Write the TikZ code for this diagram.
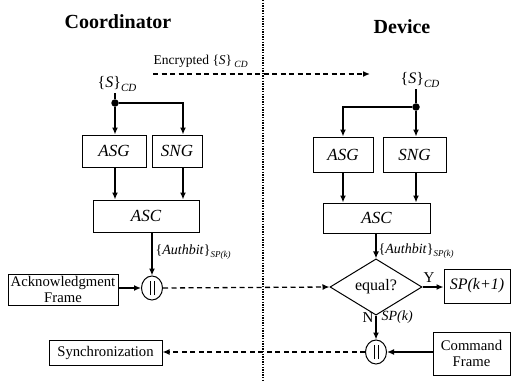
\documentclass[tikz,border=0pt]{standalone}
\usepackage{fontspec}
\setmainfont{Liberation Serif}
\usetikzlibrary{shapes.geometric,arrows.meta}
\newcommand\lsub[2][9]{\raisebox{-0.5ex}{\fontsize{#1}{#1}\selectfont\itshape #2}}
\begin{document}
\begin{tikzpicture}[x=1pt,y=-1pt,
  >={Latex[length=7pt,width=6pt]},
  line width=1.3pt,
  box/.style={draw,line width=1pt,inner sep=0pt,font=\fontsize{14.7}{16.5}\selectfont,align=center},
  ibox/.style={box,font=\fontsize{17}{17}\selectfont\itshape},
  ttl/.style={font=\fontsize{20}{20}\selectfont\bfseries},
  lbl/.style={font=\fontsize{14}{14}\selectfont,inner sep=1pt},
  jdot/.style={circle,fill,inner sep=0pt,minimum size=7.5pt},
  orc/.style={ellipse,draw,line width=1pt,minimum width=21pt,minimum height=24pt,inner sep=0pt,
    path picture={\draw[line width=1pt]
      ([xshift=-2pt,yshift=-7pt]path picture bounding box.center) -- ++(0pt,14pt)
      ([xshift=2pt,yshift=-7pt]path picture bounding box.center) -- ++(0pt,14pt);}},
  dsh/.style={dash pattern=on 5pt off 3.5pt,line width=1.3pt},
  dtt/.style={dash pattern=on 1.3pt off 1.3pt,line width=1.8pt},
]
\useasboundingbox (0,0) rectangle (511,380);

% titles
\node[ttl] (tc) at (118,22) {Coordinator};
\node[ttl] (td) at (402,27) {Device};

% divider
\coordinate (vt) at (263,0);
\coordinate (vb) at (263,380);
\draw[dtt] (vt) -- (vb);

% encrypted transfer
\node[lbl,font=\fontsize{13.5}{13.5}\selectfont,anchor=west] (enc) at (152,61) {Encrypted \{\textit{S}\}\,\lsub[9.5]{CD}};
\coordinate (es) at (153,74);
\coordinate (ee) at (370,74);
\draw[dsh,->] (es) -- (ee);

% ---------- Coordinator ----------
\node[lbl,font=\fontsize{16}{16}\selectfont] (sL) at (117,84) {\{\textit{S}\}\lsub[11]{CD}};
\node[jdot] (dL) at (115,103) {};
\node[ibox,minimum width=64pt,minimum height=32pt] (asgL) at (114,151) {ASG};
\node[ibox,minimum width=50pt,minimum height=32pt] (sngL) at (177,151) {SNG};
\node[ibox,minimum width=106pt,minimum height=32pt] (ascL) at (146,216) {ASC};
\node[orc] (cL) at (152,288) {};
\node[box,minimum width=110pt,minimum height=31pt] (ack) at (63,289.5) {Acknowledgment\\Frame};
\node[box,minimum width=113pt,minimum height=25pt] (sync) at (105.5,352.5) {Synchronization};

\draw (sL.south -| dL) -- (dL);
\draw[->] (dL) -- (dL |- asgL.north);
\coordinate (bL) at (183,103);
\draw[->] (dL) -- (bL) -- (bL |- sngL.north);
\draw[->] (dL |- asgL.south) -- (dL |- ascL.north);
\draw[->] (bL |- sngL.south) -- (bL |- ascL.north);
\draw[->] (cL |- ascL.south) -- (cL.north);
\node[lbl,anchor=west] (authL) at (154,252) {\{\textit{Authbit}\}\lsub{SP(k)}};
\draw[->] (ack.east |- cL) -- (cL.west);

% ---------- Device ----------
\node[lbl,font=\fontsize{16}{16}\selectfont] (sR) at (420,80) {\{\textit{S}\}\lsub[11]{CD}};
\node[jdot] (dR) at (416,107) {};
\node[ibox,minimum width=60pt,minimum height=35pt] (asgR) at (343,154.5) {ASG};
\node[ibox,minimum width=63pt,minimum height=35pt] (sngR) at (414.5,154.5) {SNG};
\node[ibox,minimum width=107pt,minimum height=30pt] (ascR) at (376.5,218) {ASC};
\node[draw,diamond,line width=1pt,minimum width=92pt,minimum height=42pt,inner sep=0pt,
  font=\fontsize{16}{16}\selectfont] (eq) at (376,287) {equal?};
\node[box,font=\fontsize{16}{16}\selectfont\itshape,minimum width=66pt,minimum height=34pt] (spk1) at (477,286) {SP(k+1)};
\node[orc] (cR) at (376,352) {};
\node[box,minimum width=77pt,minimum height=43pt] (cmd) at (471.5,353.5) {Command\\Frame};

\draw (sR.south -| dR) -- (dR);
\draw[->] (dR) -| (asgR.north);
\draw[->] (dR) -- (dR |- sngR.north);
\draw[->] (asgR.south) -- (asgR.south |- ascR.north);
\draw[->] (dR |- sngR.south) -- (dR |- ascR.north);
\draw[->] (eq.north |- ascR.south) -- (eq.north);
\node[lbl,anchor=west] (authR) at (377,251) {\{\textit{Authbit}\}\lsub{SP(k)}};
\draw[->] (eq.east) -- (eq.east -| spk1.west);
\node[lbl,font=\fontsize{15}{15}\selectfont] (yl) at (429,278) {Y};
\draw[->] (eq.south) -- (cR.north);
\node[lbl,anchor=east,font=\fontsize{15}{15}\selectfont] (nl) at (375,318) {N};
\node[lbl,anchor=west,font=\fontsize{14}{14}\selectfont\itshape] (spk) at (380,317) {SP(k)};
\draw[->] (cmd.west |- cR) -- (cR.east);

% cross-side dashed links
\draw[dsh,->] (cL.east) -- (eq.west);
\draw[dsh,->] (cR.west) -- (sync.east |- cR);
\end{tikzpicture}
\end{document}
